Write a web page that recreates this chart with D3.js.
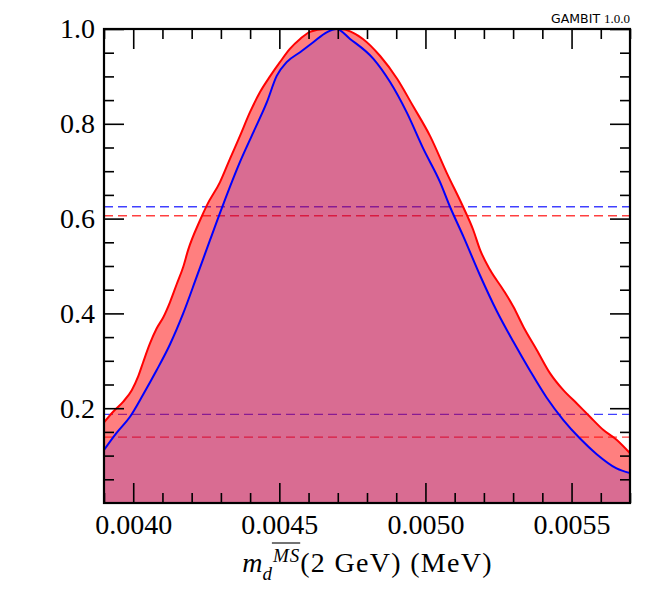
<!DOCTYPE html>
<meta charset="utf-8">
<style>
  body { margin: 0; background: #fff; }
  .tick text { font-family: "Liberation Serif", serif; font-size: 28px; fill: #000; }
  .domain { display: none; }
  .tick line { stroke: #000; stroke-width: 1.6; }
</style>
<svg width="650" height="600"></svg>
<script src="https://d3js.org/d3.v7.min.js"></script>

<script>
    // profile likelihood (red) and posterior (blue)
    var redX = [0.003900, 0.003932, 0.003966, 0.003995, 0.004017, 0.004034, 0.004057, 0.004080, 0.004103,
        0.004126, 0.004149, 0.004171, 0.004188, 0.004229, 0.004252, 0.004297, 0.004331, 0.004365,
        0.004400, 0.004434, 0.004468, 0.004502, 0.004536, 0.004571, 0.004605, 0.004656, 0.004708, 0.004786,
        0.004845, 0.004903, 0.004957, 0.005016, 0.005074, 0.005128, 0.005163, 0.005187, 0.005221, 0.005267,
        0.005301, 0.005335, 0.005381, 0.005426, 0.005472, 0.005518, 0.005563, 0.005609, 0.005655, 0.005700];
    var redY = [0.170, 0.193, 0.214, 0.238, 0.267, 0.297, 0.336, 0.368, 0.392,
        0.424, 0.462, 0.498, 0.534, 0.597, 0.628, 0.677, 0.726, 0.774,
        0.825, 0.867, 0.900, 0.930, 0.958, 0.979, 0.994, 1.000, 1.000, 0.979,
        0.943, 0.895, 0.838, 0.774, 0.695, 0.626, 0.577, 0.534, 0.492, 0.449,
        0.414, 0.372, 0.323, 0.274, 0.238, 0.210, 0.182, 0.154, 0.133, 0.105];

    var blueX = [0.003900, 0.003943, 0.003989, 0.004034, 0.004080, 0.004126, 0.004171, 0.004217, 0.004263,
        0.004308, 0.004365, 0.004411, 0.004457, 0.004491, 0.004525, 0.004571, 0.004616, 0.004662, 0.004696,
        0.004742, 0.004822, 0.004879, 0.004936, 0.004993, 0.005050, 0.005084, 0.005130, 0.005187, 0.005244,
        0.005301, 0.005358, 0.005415, 0.005472, 0.005529, 0.005586, 0.005654, 0.005700];
    var blueY = [0.112, 0.148, 0.182, 0.229, 0.280, 0.335, 0.400, 0.477, 0.555,
        0.630, 0.719, 0.782, 0.845, 0.901, 0.930, 0.951, 0.972, 0.993, 1.000,
        0.979, 0.937, 0.888, 0.824, 0.747, 0.677, 0.625, 0.562, 0.480, 0.405,
        0.340, 0.279, 0.222, 0.175, 0.136, 0.103, 0.073, 0.063];

    // confidence / credible levels
    var redLevels = [0.606, 0.139];
    var blueLevels = [0.625, 0.187];

    var xMajor = [0.0040, 0.0045, 0.0050, 0.0055];
    var yMajor = [0.2, 0.4, 0.6, 0.8, 1.0];
</script>

<script>
    var svg = d3.select("svg");
    var pL = 104, pT = 29, pR = 630, pB = 503;

    var x = d3.scaleLinear().domain([0.0039, 0.0057]).range([pL, pR]);
    var y = d3.scaleLinear().domain([0, 1]).range([pB, pT]);

    var xMinor = d3.range(39, 58).map(function (i) { return i / 10000; })
        .filter(function (v) { return xMajor.every(function (m) { return Math.abs(m - v) > 1e-9; }); });
    var yMinor = d3.range(1, 20).map(function (i) { return i / 20; })
        .filter(function (v) { return yMajor.every(function (m) { return Math.abs(m - v) > 1e-9; }); });

    svg.append("clipPath").attr("id", "plot")
        .append("rect").attr("x", pL).attr("y", pT).attr("width", pR - pL).attr("height", pB - pT);

    var plot = svg.append("g").attr("clip-path", "url(#plot)");

    // dashed level lines go beneath the translucent fills
    plot.selectAll(".blvl").data(blueLevels).enter().append("line")
        .attr("x1", pL).attr("x2", pR)
        .attr("y1", function (d) { return y(d); }).attr("y2", function (d) { return y(d); })
        .attr("stroke", "#0000ff").attr("stroke-width", 1.3).attr("stroke-opacity", 0.75)
        .attr("stroke-dasharray", "9,5");
    plot.selectAll(".rlvl").data(redLevels).enter().append("line")
        .attr("x1", pL).attr("x2", pR)
        .attr("y1", function (d) { return y(d); }).attr("y2", function (d) { return y(d); })
        .attr("stroke", "#ff0000").attr("stroke-width", 1.3).attr("stroke-opacity", 0.75)
        .attr("stroke-dasharray", "9,5");

    var red = d3.zip(redX, redY), blue = d3.zip(blueX, blueY);

    var area = d3.area().curve(d3.curveMonotoneX)
        .x(function (d) { return x(d[0]); })
        .y0(y(0))
        .y1(function (d) { return y(d[1]); });
    var line = d3.line().curve(d3.curveMonotoneX)
        .x(function (d) { return x(d[0]); })
        .y(function (d) { return y(d[1]); });

    plot.append("path").attr("d", area(red)).attr("fill", "rgba(255,0,0,0.5)");
    plot.append("path").attr("d", area(blue)).attr("fill", "rgba(0,0,255,0.15)");
    plot.append("path").attr("d", line(red)).attr("fill", "none").attr("stroke", "#ff0000").attr("stroke-width", 2);
    plot.append("path").attr("d", line(blue)).attr("fill", "none").attr("stroke", "#0000ff").attr("stroke-width", 2);

    // ticks on all four sides, pointing inwards
    function put(axis, tx, ty) {
        return svg.append("g").attr("transform", "translate(" + tx + "," + ty + ")").call(axis);
    }
    put(d3.axisBottom(x).tickValues(xMajor).tickSize(-20).tickPadding(11).tickFormat(d3.format(".4f")), 0, pB);
    put(d3.axisBottom(x).tickValues(xMinor).tickSize(-10).tickFormat(""), 0, pB);
    put(d3.axisTop(x).tickValues(xMajor).tickSize(-20).tickFormat(""), 0, pT);
    put(d3.axisTop(x).tickValues(xMinor).tickSize(-10).tickFormat(""), 0, pT);
    put(d3.axisLeft(y).tickValues(yMajor).tickSize(-20).tickPadding(9).tickFormat(d3.format(".1f")), pL, 0);
    put(d3.axisLeft(y).tickValues(yMinor).tickSize(-10).tickFormat(""), pL, 0);
    put(d3.axisRight(y).tickValues(yMajor).tickSize(-20).tickFormat(""), pR, 0);
    put(d3.axisRight(y).tickValues(yMinor).tickSize(-10).tickFormat(""), pR, 0);

    svg.append("rect").attr("x", pL).attr("y", pT).attr("width", pR - pL).attr("height", pB - pT)
        .attr("fill", "none").attr("stroke", "#000").attr("stroke-width", 2.2);

    // axis title: m_d^{\overline{MS}}(2 GeV) (MeV)
    var title = svg.append("text").attr("y", 572)
        .attr("font-family", "Liberation Serif, serif").attr("font-size", 28).attr("fill", "#000");
    title.append("tspan").attr("font-style", "italic").text("m");
    title.append("tspan").attr("font-style", "italic").attr("font-size", 19).attr("dy", 8).text("d");
    title.append("tspan").attr("font-style", "italic").attr("font-size", 19).attr("dx", 1).attr("dy", -18)
        .attr("letter-spacing", 1).text("MS");
    title.append("tspan").attr("dy", 10).attr("dx", 0).attr("letter-spacing", 1.3).text("(2 GeV) (MeV)");
    var tw = title.node().getComputedTextLength();
    title.attr("x", (pL + pR) / 2 - tw / 2);
    var tn = title.node();
    var ox0 = tn.getStartPositionOfChar(2).x, ox1 = tn.getEndPositionOfChar(3).x;
    svg.append("line").attr("x1", ox0 - 1).attr("x2", ox1).attr("y1", 543).attr("y2", 543)
        .attr("stroke", "#000").attr("stroke-width", 1.1);

    // version stamp
    var stamp = svg.append("text").attr("x", pR).attr("y", 23).attr("text-anchor", "end").attr("fill", "#000");
    stamp.append("tspan").attr("font-family", "DejaVu Sans, sans-serif").attr("font-size", 12.5).text("GAMBIT ");
    stamp.append("tspan").attr("font-family", "Liberation Serif, serif").attr("font-size", 13).text("1.0.0");
</script>
